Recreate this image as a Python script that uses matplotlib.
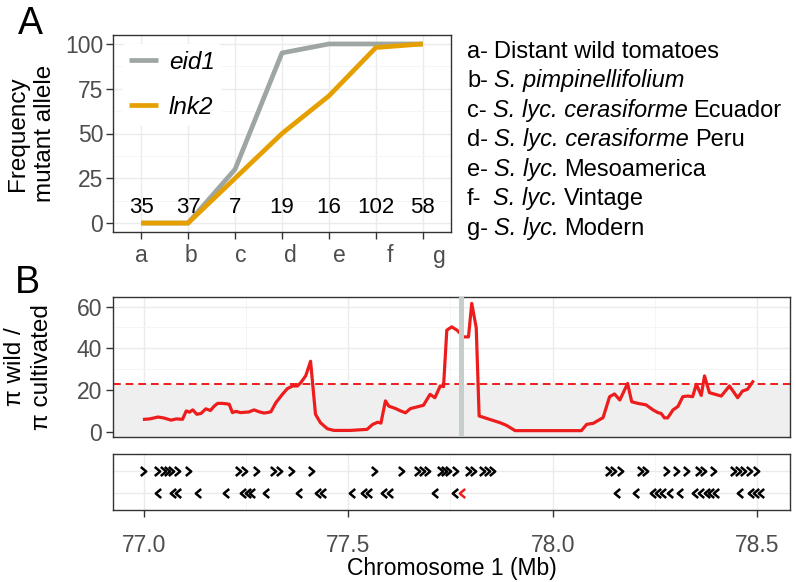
import matplotlib
matplotlib.use("Agg")
import matplotlib.pyplot as plt
import matplotlib.transforms as mtransforms
from matplotlib.path import Path
from matplotlib.ticker import MultipleLocator, FixedLocator, FormatStrFormatter

plt.rcParams["font.family"] = ["Liberation Sans", "DejaVu Sans"]

# ==========================
# Data - panel A
# ==========================
groups = ["a", "b", "c", "d", "e", "f", "g"]
eid1 = [0, 0, 30, 95, 100, 100, 100]
lnk2 = [0, 0, 25, 50, 71, 98, 100]
n_samples = [35, 37, 7, 19, 16, 102, 58]

group_names = [
    ("a-", "", "Distant wild tomatoes"),
    ("b-", "S. pimpinellifolium", ""),
    ("c-", "S. lyc. cerasiforme", "Ecuador"),
    ("d-", "S. lyc. cerasiforme", "Peru"),
    ("e-", "S. lyc.", "Mesoamerica"),
    ("f- ", "S. lyc.", "Vintage"),
    ("g-", "S. lyc.", "Modern"),
]

# ==========================
# Data - panel B (diversity ratio)
# ==========================
pos_mb = [
    77.002, 77.015, 77.035, 77.05, 77.067, 77.08, 77.095, 77.104, 77.112, 77.12,
    77.13, 77.14, 77.152, 77.163, 77.173, 77.181, 77.193, 77.209, 77.217, 77.225,
    77.237, 77.257, 77.27, 77.282, 77.294, 77.302, 77.311, 77.323, 77.339, 77.351,
    77.364, 77.376, 77.384, 77.396, 77.408, 77.42, 77.432, 77.449, 77.465, 77.505,
    77.546, 77.56, 77.572, 77.58, 77.591, 77.599, 77.615, 77.628, 77.64, 77.652,
    77.684, 77.70, 77.712, 77.725, 77.733, 77.741, 77.753, 77.766, 77.782, 77.794,
    77.802, 77.813, 77.82, 77.839, 77.871, 77.887, 77.908, 78.07, 78.083, 78.099,
    78.123, 78.139, 78.151, 78.164, 78.183, 78.193, 78.208, 78.228, 78.245, 78.257,
    78.265, 78.273, 78.281, 78.294, 78.306, 78.318, 78.33, 78.342, 78.351, 78.363,
    78.371, 78.383, 78.412, 78.432, 78.452, 78.464, 78.476, 78.489,
]
pi_ratio = [
    6.2, 6.4, 7.3, 6.8, 5.8, 6.4, 6.2, 10.2, 9.6, 10.7,
    8.6, 9.0, 11.2, 10.4, 12.6, 13.8, 13.8, 13.4, 9.4, 10.0,
    9.4, 9.7, 10.7, 9.8, 9.2, 9.4, 9.8, 14.1, 18.1, 20.8,
    22.1, 22.1, 23.7, 26.9, 33.9, 8.6, 4.6, 1.7, 0.9, 0.9,
    1.4, 3.8, 4.8, 4.4, 15.0, 12.5, 11.4, 10.2, 9.3, 11.3,
    12.9, 18.1, 16.5, 22.1, 21.8, 48.7, 50.3, 48.7, 45.5, 45.5,
    61.5, 49.8, 7.8, 6.6, 4.6, 3.3, 0.8, 0.8, 3.8, 4.3,
    7.0, 17.0, 18.3, 15.4, 23.3, 14.6, 13.8, 13.1, 10.7, 9.4,
    9.0, 6.9, 6.9, 10.7, 12.3, 17.0, 17.3, 17.0, 22.9, 17.6,
    26.9, 18.9, 17.3, 22.1, 16.5, 19.7, 20.5, 24.1,
]
threshold = 22.9
eid1_pos = 77.775

# genes: forward strand (>) and reverse strand (<)
genes_fwd = [
    76.998, 77.033, 77.047, 77.057, 77.067, 77.082, 77.108, 77.23, 77.246, 77.274,
    77.315, 77.331, 77.359, 77.408, 77.562, 77.628, 77.668, 77.68, 77.693, 77.725,
    77.733, 77.745, 77.762, 77.794, 77.806, 77.827, 77.839, 77.851, 78.135, 78.147,
    78.164, 78.213, 78.225, 78.278, 78.302, 78.326, 78.355, 78.367, 78.391, 78.44,
    78.452, 78.464, 78.48, 78.497,
]
genes_rev = [
    77.035, 77.071, 77.085, 77.132, 77.201, 77.242, 77.254, 77.266, 77.299, 77.38,
    77.425, 77.438, 77.51, 77.538, 77.55, 77.587, 77.603, 77.713, 77.762, 78.156,
    78.204, 78.245, 78.257, 78.27, 78.286, 78.31, 78.347, 78.363, 78.376, 78.388,
    78.4, 78.457, 78.485, 78.497, 78.509,
]
gene_eid1 = [77.778]

# ==========================
# Style
# ==========================
grey_line = "#9DA6A3"
orange = "#E69F00"
red = "#EE1D1D"
frame_col = "#333333"
grid_col = "#EBEBEB"
tick_col = "#4D4D4D"
TICK_FS = 16.5
TITLE_FS = 17.5


def style_axes(ax):
    for sp in ax.spines.values():
        sp.set_color(frame_col)
        sp.set_linewidth(1.0)
    ax.set_axisbelow(True)
    ax.grid(which="major", color=grid_col, lw=1.0)
    ax.grid(which="minor", color="#F4F4F4", lw=0.6)
    ax.tick_params(which="major", colors=frame_col, labelcolor=tick_col,
                   labelsize=TICK_FS, length=5, width=1.0)
    ax.tick_params(which="minor", length=0)


fig = plt.figure(figsize=(7.96, 5.82), dpi=100)
W, H = 796, 582


def box(l, t, r, b):
    return [l / W, 1 - b / H, (r - l) / W, (b - t) / H]


# ==========================
# Panel A
# ==========================
axA = fig.add_axes(box(113, 35, 451, 232))
style_axes(axA)
xs = list(range(len(groups)))
axA.plot(xs, eid1, color=grey_line, lw=3.4, label="eid1", solid_capstyle="butt")
axA.plot(xs, lnk2, color=orange, lw=3.4, label="lnk2", solid_capstyle="butt")
for x, n in zip(xs, n_samples):
    axA.text(x, 8.5, str(n), ha="center", va="center", fontsize=16, color="black")
axA.set_xlim(-0.6, 6.6)
axA.set_ylim(-5, 105)
axA.set_xticks(xs)
axA.set_xticklabels(groups)
axA.yaxis.set_major_locator(MultipleLocator(25))
axA.yaxis.set_minor_locator(MultipleLocator(12.5))
axA.tick_params(axis="x", pad=4)
axA.tick_params(axis="y", pad=2)
for i, lab in enumerate(axA.get_xticklabels()):
    off = mtransforms.ScaledTranslation(i * 2.7 / 100, 0, fig.dpi_scale_trans)
    lab.set_transform(lab.get_transform() + off)
axA.set_ylabel("Frequency\nmutant allele", fontsize=TITLE_FS, linespacing=1.3)
axA.yaxis.set_label_coords(-0.168, 0.5)
leg = axA.legend(loc="upper left", frameon=True, framealpha=1,
                 facecolor="white", edgecolor="none", handlelength=1.2,
                 handletextpad=0.45, labelspacing=0.9, borderpad=0.3,
                 borderaxespad=0.35, prop={"style": "italic", "size": 17.5})

# group names on the right
y0 = 51.7
for i, (pre, ital, post) in enumerate(group_names):
    t = fig.text(467 / W, 1 - (y0 + i * 29.5) / H, pre.strip(), fontsize=17,
                 va="center", ha="left")
    prev = t
    gap = 6 if pre == pre.strip() else 12
    if ital:
        prev = axA.annotate(ital, xy=(1, 0), xycoords=t, xytext=(gap, 0),
                            textcoords="offset pixels", va="bottom", ha="left",
                            fontsize=17, style="italic", annotation_clip=False)
        gap = 6
    if post:
        axA.annotate(post, xy=(1, 0), xycoords=prev, xytext=(gap, 0),
                     textcoords="offset pixels", va="bottom", ha="left",
                     fontsize=17, annotation_clip=False)

fig.text(30 / W, 1 - 24 / H, "A", fontsize=27, ha="center", va="center")
fig.text(27 / W, 1 - 283 / H, "B", fontsize=27, ha="center", va="center")

# ==========================
# Panel B - diversity ratio
# ==========================
xlim = (76.925, 78.58)
axB = fig.add_axes(box(113, 297, 790, 437))
style_axes(axB)
lo, hi = min(pi_ratio), max(pi_ratio)
pad = 0.05 * (hi - lo)
axB.set_ylim(lo - pad, hi + pad)
axB.set_xlim(*xlim)
axB.axhspan(lo - 10, threshold, color="#EFEFEF", lw=0, zorder=1)
axB.axhline(threshold, color=red, lw=1.4, ls=(0, (4, 2.5)), zorder=2)
axB.plot(pos_mb, pi_ratio, color=red, lw=2.3, zorder=3, solid_joinstyle="round")
axB.axvline(eid1_pos, color="#C6CDCB", lw=3.6, zorder=4)
axB.xaxis.set_major_locator(MultipleLocator(0.5))
axB.xaxis.set_minor_locator(MultipleLocator(0.25))
axB.yaxis.set_major_locator(MultipleLocator(20))
axB.yaxis.set_minor_locator(MultipleLocator(10))
axB.tick_params(axis="x", which="both", length=0, labelbottom=False)
axB.tick_params(axis="y", pad=3)
axB.set_ylabel("\u03c0 wild /\n\u03c0 cultivated", fontsize=TITLE_FS, linespacing=1.3)
axB.yaxis.set_label_coords(-0.089, 0.5)

# ==========================
# Gene track
# ==========================
axG = fig.add_axes(box(113, 454, 790, 510))
style_axes(axG)
axG.set_xlim(*xlim)
axG.set_ylim(-0.75, 1.75)
axG.xaxis.set_major_locator(MultipleLocator(0.5))
axG.xaxis.set_minor_locator(MultipleLocator(0.25))
axG.xaxis.set_major_formatter(FormatStrFormatter("%.1f"))
axG.yaxis.set_major_locator(FixedLocator([0, 1]))
axG.tick_params(axis="y", length=0, labelleft=False)
axG.tick_params(axis="x", pad=12)

right_chev = Path([(-0.3, 0.5), (0.3, 0.0), (-0.3, -0.5)],
                  [Path.MOVETO, Path.LINETO, Path.LINETO])
left_chev = Path([(0.3, 0.5), (-0.3, 0.0), (0.3, -0.5)],
                 [Path.MOVETO, Path.LINETO, Path.LINETO])
axG.plot(genes_fwd, [1] * len(genes_fwd), ls="none", marker=right_chev,
         ms=6.5, mew=1.8, mec="black", mfc="none")
axG.plot(genes_rev, [0] * len(genes_rev), ls="none", marker=left_chev,
         ms=6.5, mew=1.8, mec="black", mfc="none")
axG.plot(gene_eid1, [0] * len(gene_eid1), ls="none", marker=left_chev,
         ms=6.5, mew=1.8, mec=red, mfc="none")
axG.set_xlabel("Chromosome 1 (Mb)", fontsize=16.5, labelpad=0)

fig.savefig("out.png", dpi=100)
